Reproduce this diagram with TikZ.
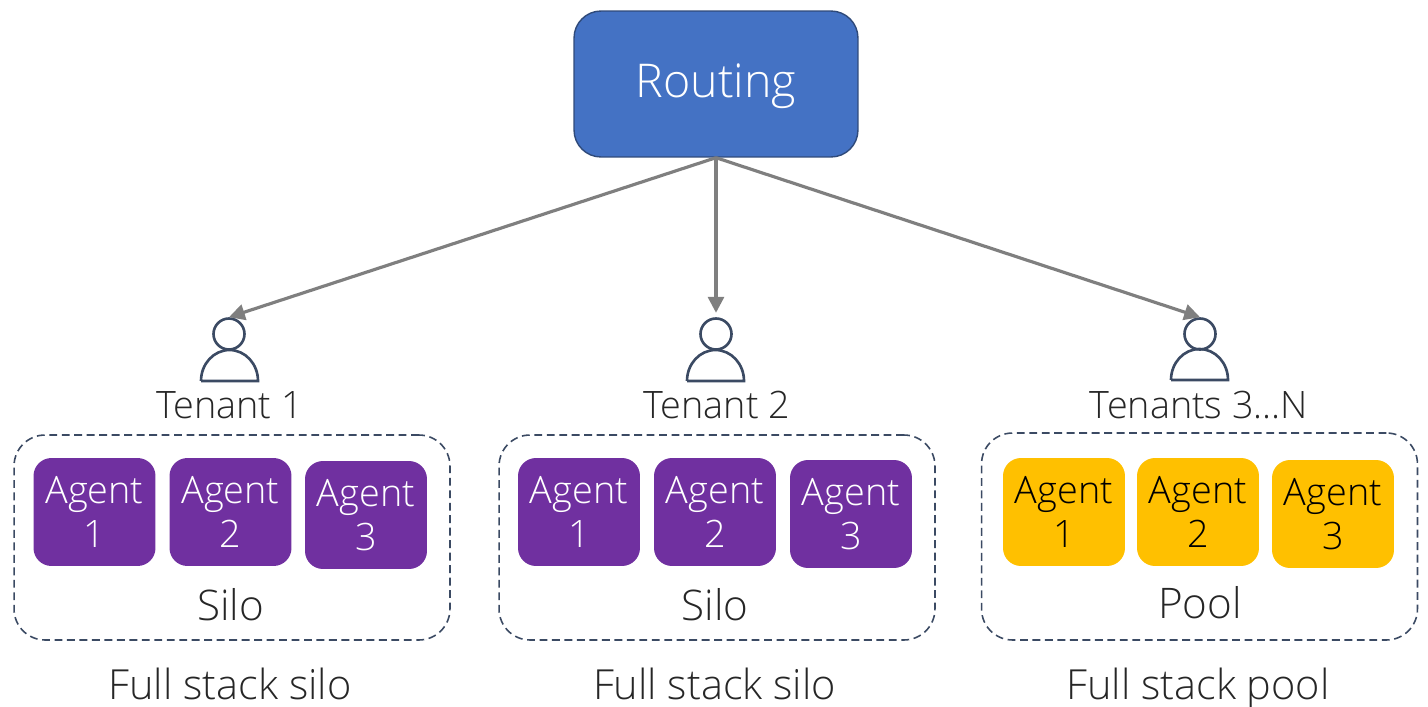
\documentclass[tikz,border=0pt]{standalone}
\usepackage{fontspec}
\setmainfont{Open Sans Light}
\usetikzlibrary{arrows.meta}
\definecolor{routingblue}{HTML}{4472C4}
\definecolor{routingedge}{HTML}{2F4A7A}
\definecolor{agentpurple}{HTML}{7030A0}
\definecolor{agentyellow}{HTML}{FFC000}
\definecolor{slateline}{HTML}{3B4A63}
\definecolor{arrowgray}{HTML}{7F7F7F}
\definecolor{labelgray}{HTML}{262626}
\tikzset{
	every node/.style={inner sep=0pt, text=labelgray},
	routingbox/.style={draw=routingedge, line width=0.8pt, fill=routingblue, rounded corners=0.54cm, minimum width=5.68cm, minimum height=2.92cm},
	agentbox/.style={rounded corners=0.36cm, minimum width=2.44cm, minimum height=2.16cm, align=center, font=\fontsize{21.5}{25}\selectfont},
	purplebox/.style={agentbox, fill=agentpurple, text=white},
	yellowbox/.style={agentbox, fill=agentyellow, text=black},
	groupbox/.style={draw=slateline, line width=0.9pt, dashed, dash pattern=on 4.5pt off 2.6pt, rounded corners=0.62cm, minimum width=8.72cm, minimum height=4.1cm},
	headnode/.style={circle, draw=slateline, line width=1.5pt, minimum size=0.62cm},
	bodyline/.style={draw=slateline, line width=1.5pt},
	tenantlabel/.style={anchor=base, font=\fontsize{21.5}{25}\selectfont},
	grouplabel/.style={anchor=base, font=\fontsize{24}{28}\selectfont},
	stacklabel/.style={anchor=base, font=\fontsize{23.6}{28}\selectfont},
	route/.style={draw=arrowgray, line width=1.8pt, -{Triangle[length=9pt,width=9pt]}}
}
\begin{document}
\begin{tikzpicture}[x=0.02cm,y=0.02cm]
	\useasboundingbox (0,0) rectangle (1428,-707);
	% top box
	\node [routingbox] (routing) at (716,-84) {};
	\node [anchor=base, text=white, font=\fontsize{26.5}{30}\selectfont] (routinglabel) at (716,-97) {Routing};
	% tenants
	\node [headnode] (head1) at (229,-334) {};
	\draw [bodyline] (201,-381) -- (258,-381) arc (0:180:28.5 and 31) -- cycle;
	\node [headnode] (head2) at (716,-334) {};
	\draw [bodyline] (687,-381) -- (744,-381) arc (0:180:28.5 and 31) -- cycle;
	\node [headnode] (head3) at (1200,-334) {};
	\draw [bodyline] (1171,-380) -- (1228,-380) arc (0:180:28.5 and 31) -- cycle;
	\node [tenantlabel] (tenant1) at (229.5,-418.5) {Tenant 1};
	\node [tenantlabel] (tenant2) at (717,-418.5) {Tenant 2};
	\node [tenantlabel] (tenant3) at (1199,-418.5) {Tenants 3\ldots N};
	% arrows
	\draw [route] (routing.south) -- (head1.north);
	\draw [route, shorten >=2.5pt] (routing.south) -- (head2.north);
	\draw [route] (routing.south) -- (head3.north);
	% groups
	\node [groupbox] (group1) at (232,-537.5) {};
	\node [groupbox] (group2) at (717,-537.5) {};
	\node [groupbox, minimum height=4.14cm] (group3) at (1199.5,-536.5) {};
	% agents
	\node [purplebox] (a11) at (94.5,-512) {Agent\\1};
	\node [purplebox] (a12) at (230.5,-512) {Agent\\2};
	\node [purplebox] (a13) at (366,-515) {Agent\\3};
	\node [purplebox] (a21) at (579,-512) {Agent\\1};
	\node [purplebox] (a22) at (715,-512) {Agent\\2};
	\node [purplebox] (a23) at (851,-514) {Agent\\3};
	\node [yellowbox] (a31) at (1064,-512) {Agent\\1};
	\node [yellowbox] (a32) at (1198,-512) {Agent\\2};
	\node [yellowbox] (a33) at (1333,-514) {Agent\\3};
	% captions
	\node [grouplabel] (silo1) at (230.5,-620.5) {Silo};
	\node [grouplabel] (silo2) at (715,-620.5) {Silo};
	\node [grouplabel] (pool) at (1200,-618.5) {Pool};
	\node [stacklabel] (stack1) at (230,-699.5) {Full stack silo};
	\node [stacklabel] (stack2) at (714.5,-699.5) {Full stack silo};
	\node [stacklabel] (stack3) at (1198,-699.5) {Full stack pool};
\end{tikzpicture}
\end{document}
